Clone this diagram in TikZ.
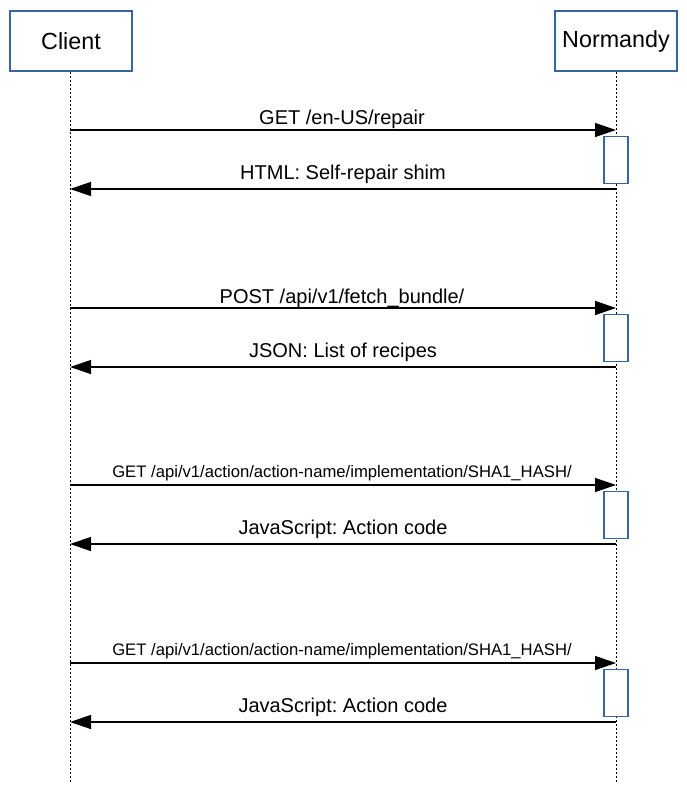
\documentclass[tikz,border=0pt]{standalone}
\usepackage{fontspec}
\setmainfont{Liberation Sans}
\usetikzlibrary{arrows.meta}
\definecolor{boxblue}{HTML}{3465A4}
\frenchspacing

\begin{document}
\begin{tikzpicture}[x=0.75pt,y=-0.75pt]
	\useasboundingbox (0,0) rectangle (686,799);
	\tikzset{
	actor/.style={draw=boxblue,line width=1pt,minimum width=91.5pt,minimum height=45pt,font=\fontsize{17.5}{21}\selectfont},
	lifeline/.style={line width=0.75pt,dash pattern=on 1.5pt off 1.5pt},
	msg/.style={line width=1pt,-{Triangle[length=15.75pt,width=10.5pt]}},
	act/.style={draw=boxblue,fill=white,line width=1pt,minimum width=18pt,minimum height=35.25pt,inner sep=0pt}
	}
	% participants
	\node[actor] (client) at (71,41) {Client};
	\node[actor] (normandy) at (616,41) {Normandy};
	\coordinate (clientend) at (70,782);
	\coordinate (normandyend) at (616,782);
	\draw[lifeline] (client.south -| clientend) -- (clientend);
	\draw[lifeline] (normandy.south) -- (normandyend);
	% request / response pairs
	\foreach \i/\y/\sz/\dy/\req/\res in {
		1/130/15/6/{GET /en-US/repair}/{HTML: Self-repair shim},
		2/308/15/5/{POST /api/v1/fetch\_bundle/}/{JSON: List of recipes},
		3/485/12.5/8/{GET /api/v1/action/action-name/implementation/SHA1\_HASH/}/{JavaScript: Action code},
		4/663/12.5/8/{GET /api/v1/action/action-name/implementation/SHA1\_HASH/}/{JavaScript: Action code}}
	{
	\coordinate (c\i) at (70,\y);
	\coordinate (n\i) at (616,\y);
	\coordinate (cr\i) at (70,\y+59);
	\coordinate (nr\i) at (616,\y+59);
	\draw[msg] (c\i) -- (n\i);
	\node[anchor=base,font=\fontsize{\sz}{\sz}\selectfont] (req\i) at (342,\y-\dy) {\req};
	\node[act,anchor=north] (act\i) at (616,\y+6) {};
	\draw[msg] (nr\i) -- (cr\i);
	\node[anchor=base,font=\fontsize{15}{18}\selectfont] (res\i) at (343,\y+49) {\res};
	}
\end{tikzpicture}
\end{document}
